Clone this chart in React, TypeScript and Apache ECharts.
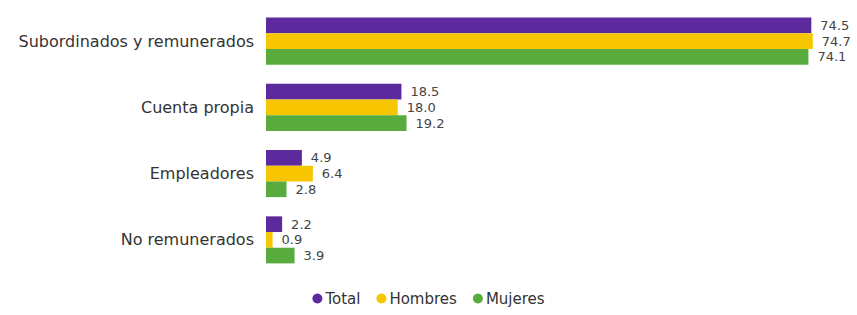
import React, { useEffect, useRef } from "react";
import * as echarts from "echarts";

const categories = ["Subordinados y remunerados", "Cuenta propia", "Empleadores", "No remunerados"];
const seriesNames = ["Total", "Hombres", "Mujeres"];
const totalValues = [74.5, 18.5, 4.9, 2.2];
const hombresValues = [74.7, 18.0, 6.4, 0.9];
const mujeresValues = [74.1, 19.2, 2.8, 3.9];
const colors = ["#5c2a9d", "#f7c600", "#5aab3e"];

export default function App() {
  const ref = useRef<HTMLDivElement>(null);
  useEffect(() => {
    const chart = echarts.init(ref.current!, null, { renderer: "svg" });
    const font = "DejaVu Sans";
    const data = [totalValues, hombresValues, mujeresValues];
    chart.setOption({
      animation: false,
      grid: { left: 266, top: 8, bottom: 42, width: 585.6, containLabel: false },
      xAxis: {
        type: "value",
        min: 0,
        max: 80,
        show: false,
      },
      yAxis: {
        type: "category",
        data: categories,
        inverse: true,
        axisLine: { show: false },
        axisTick: { show: false },
        axisLabel: { color: "#333", fontFamily: font, fontSize: 16, margin: 12 },
      },
      legend: {
        bottom: 4,
        left: "center",
        icon: "circle",
        itemWidth: 10,
        itemHeight: 10,
        itemGap: 16,
        textStyle: { color: "#333", fontFamily: font, fontSize: 15, padding: [0, 0, 0, -2] },
        data: seriesNames,
      },
      series: seriesNames.map((name, i) => ({
        name,
        type: "bar",
        data: data[i],
        barGap: "0%",
        barCategoryGap: "29%",
        itemStyle: { color: colors[i] },
        label: {
          show: true,
          position: "right",
          distance: 9,
          color: "#444",
          fontFamily: font,
          fontSize: 13,
          formatter: (p: any) => p.value.toFixed(1),
        },
      })),
    });
    return () => chart.dispose();
  }, []);
  return <div ref={ref} style={{ position: "absolute", left: 0, top: 0, width: 857, height: 315 }} />;
}
